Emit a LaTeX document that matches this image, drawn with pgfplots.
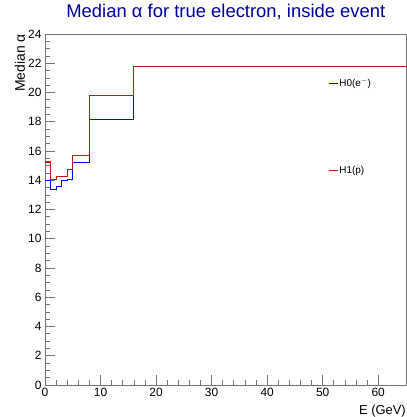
\documentclass[border=0pt]{standalone}
\usepackage{pgfplots}
\pgfplotsset{compat=1.18}
\usepackage{fontspec}
\setmainfont{Liberation Sans}
\definecolor{hblue}{rgb}{0,0,1}
\definecolor{hred}{rgb}{0.75,0.08,0.08}
\definecolor{tblue}{rgb}{0,0,0.63}
\begin{document}
\begin{tikzpicture}
\path[use as bounding box] (-45bp,-32bp) rectangle (362bp,385bp);
\begin{axis}[
  at={(0,0)}, anchor=south west,
  scale only axis, width=361bp, height=351bp,
  xmin=0, xmax=65, ymin=0, ymax=24,
  xtick={0,10,...,60}, ytick={0,2,...,24},
  minor x tick num=4, minor y tick num=3,
  tick align=inside, tick pos=left,
  major tick length=10bp, minor tick length=5bp,
  axis line style={black!55, line width=0.7bp},
  major tick style={black!55, line width=0.7bp},
  minor tick style={black!55, line width=0.7bp},
  /pgf/number format/assume math mode=true,
  tick label style={font=\fontsize{12}{12}\selectfont},
  title={Median α for true electron, inside event},
  title style={at={(axis description cs:0.501,1)}, anchor=base, yshift=11bp,
    font=\fontsize{18.5}{18.5}\selectfont, text=tblue, inner sep=0pt},
  xlabel={E (GeV)},
  xlabel style={at={(axis description cs:1,0)}, anchor=base east, yshift=-29bp,
    font=\fontsize{13}{13}\selectfont, inner sep=0pt},
  ylabel={Median α},
  ylabel style={at={(axis description cs:-0.0554,1)}, anchor=base east,
    font=\fontsize{14}{14}\selectfont, inner sep=0pt},
  legend style={draw=none, fill=none, at={(axis description cs:0.784,0.8766)},
    anchor=north west, font=\fontsize{10}{12}\selectfont, row sep=76bp,
    inner sep=0pt, nodes={inner sep=1bp}},
  legend cell align=left,
  legend image code/.code={\draw[#1] (0bp,0bp) -- (9bp,0bp);},
]
\addplot[color=hblue, line width=1.1bp, mark=none] coordinates {
  (0,14.00) (1,14.00) (1,13.35) (2,13.35) (2,13.60) (3,13.60) (3,14.00) (4,14.00)
  (4,14.05) (5,14.05) (5,15.22) (8,15.22) (8,18.15) (16,18.15) (16,21.75) (65,21.75)
};
\addplot[color=hred, line width=1.1bp, mark=none] coordinates {
  (0,15.25) (1,15.25) (1,14.05) (2,14.05) (2,14.28) (3,14.28) (4,14.28)
  (4,14.75) (5,14.75) (5,15.70) (8,15.70) (8,19.82) (16,19.82) (16,21.75) (65,21.75)
};
\legend{H0(e$^{-}$), H1(p)}
\end{axis}
\end{tikzpicture}
\end{document}
